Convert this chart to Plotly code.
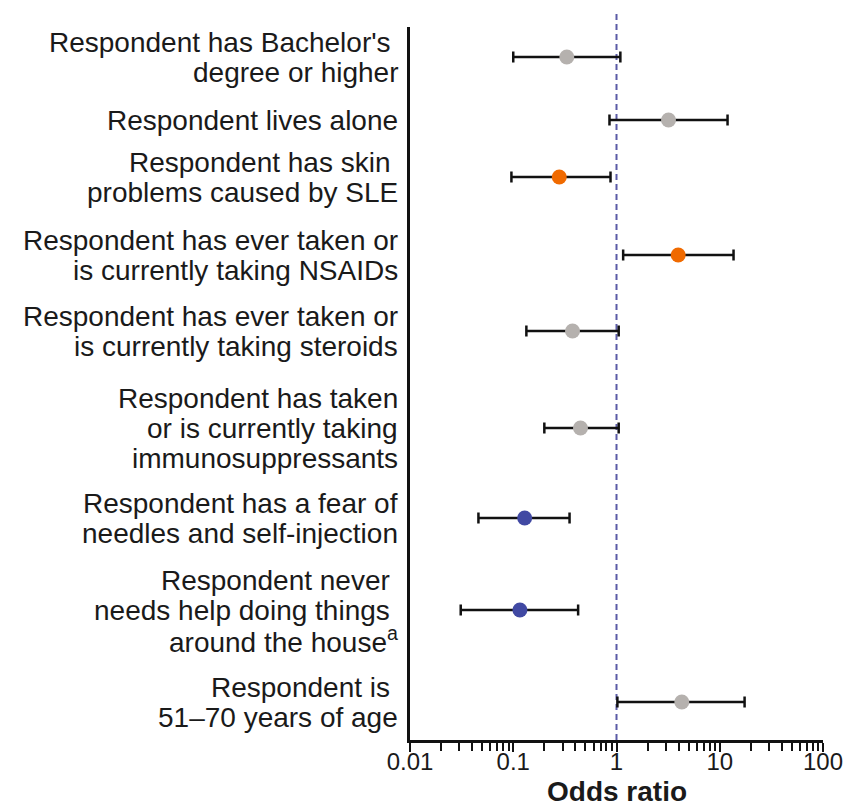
import plotly.graph_objects as go

labels = [
    ["Respondent has Bachelor's\u00a0", "degree or higher"],
    ["Respondent lives alone"],
    ["Respondent has skin\u00a0", "problems caused by SLE"],
    ["Respondent has ever taken or", "is currently taking NSAIDs"],
    ["Respondent has ever taken or", "is currently taking steroids"],
    ["Respondent has taken", "or is currently taking", "immunosuppressants"],
    ["Respondent has a fear of", "needles and self-injection"],
    ["Respondent never\u00a0", "needs help doing things\u00a0", "around the house<sup>a</sup>"],
    ["Respondent is\u00a0", "51\u201370 years of age"],
]
odds_ratio = [0.33, 3.19, 0.279, 3.96, 0.375, 0.448, 0.129, 0.116, 4.29]
ci_low = [0.100, 0.855, 0.096, 1.16, 0.134, 0.200, 0.046, 0.031, 1.02]
ci_high = [1.09, 11.9, 0.875, 13.6, 1.05, 1.05, 0.351, 0.425, 17.4]
group = ["ns", "ns", "pos", "pos", "ns", "ns", "neg", "neg", "ns"]

tick_vals = [0.01, 0.1, 1, 10, 100]
tick_text = ["0.01", "0.1", "1", "10", "100"]

# layout: vertical row centres in pixel units of the plot (top=27, bottom=740)
row_pos = [57, 120, 177, 255, 331, 428, 518, 610, 702]
colors = {"ns": "#B5B1AE", "pos": "#F06A00", "neg": "#4149A3"}
FONT = "Liberation Sans, Arial, Helvetica, sans-serif"

fig = go.Figure()
fig.add_trace(go.Scatter(
    x=odds_ratio, y=row_pos, mode="markers",
    marker=dict(size=15, color=[colors[g] for g in group], line=dict(width=0)),
    error_x=dict(type="data", symmetric=False,
                 array=[h - o for h, o in zip(ci_high, odds_ratio)],
                 arrayminus=[o - l for o, l in zip(odds_ratio, ci_low)],
                 color="#111111", thickness=2.5, width=5.5),
    showlegend=False, cliponaxis=False,
))

minor_vals = [k * 10 ** e for e in range(-2, 2) for k in range(2, 10)]

fig.update_layout(
    width=853, height=799,
    margin=dict(l=402, r=38, t=19, b=67),
    plot_bgcolor="white", paper_bgcolor="white",
    font=dict(family=FONT, color="#1a1a1a"),
    xaxis=dict(type="log", range=[-2, 2], tickmode="array", tickvals=tick_vals,
               ticktext=tick_text, ticks="outside", ticklen=9, tickwidth=2.2,
               tickcolor="#111111", showline=True, linecolor="#111111", linewidth=2.5,
               showgrid=False, zeroline=False, tickfont=dict(size=24, color="#1a1a1a"),
               ticklabelstandoff=-11,
               minor=dict(tickmode="array", tickvals=minor_vals, ticks="outside",
                          ticklen=8, tickwidth=2.2, tickcolor="#111111", showgrid=False)),
    yaxis=dict(range=[740, 27], showline=True, linecolor="#111111", linewidth=2.5,
               showgrid=False, zeroline=False, showticklabels=False, ticks=""),
)

fig.add_annotation(xref="paper", yref="paper", x=0.5, y=0, xanchor="center",
                   yanchor="middle", yshift=-51, text="<b>Odds ratio</b>",
                   showarrow=False, font=dict(size=28, color="#1a1a1a"))

fig.add_shape(type="line", xref="x", yref="paper", x0=1, x1=1, y0=0, y1=1.02,
              line=dict(color="#5B5BA6", width=2, dash="6px,4px"), layer="below")

for lines, yp in zip(labels, row_pos):
    n = len(lines)
    for i, t in enumerate(lines):
        fig.add_annotation(xref="paper", yref="y", x=0, y=yp, xanchor="right",
                           yanchor="middle", xshift=-10, yshift=((n - 1) / 2 - i) * 30,
                           text=t, showarrow=False, font=dict(size=28, color="#1a1a1a"))

fig.write_html("out.html")
